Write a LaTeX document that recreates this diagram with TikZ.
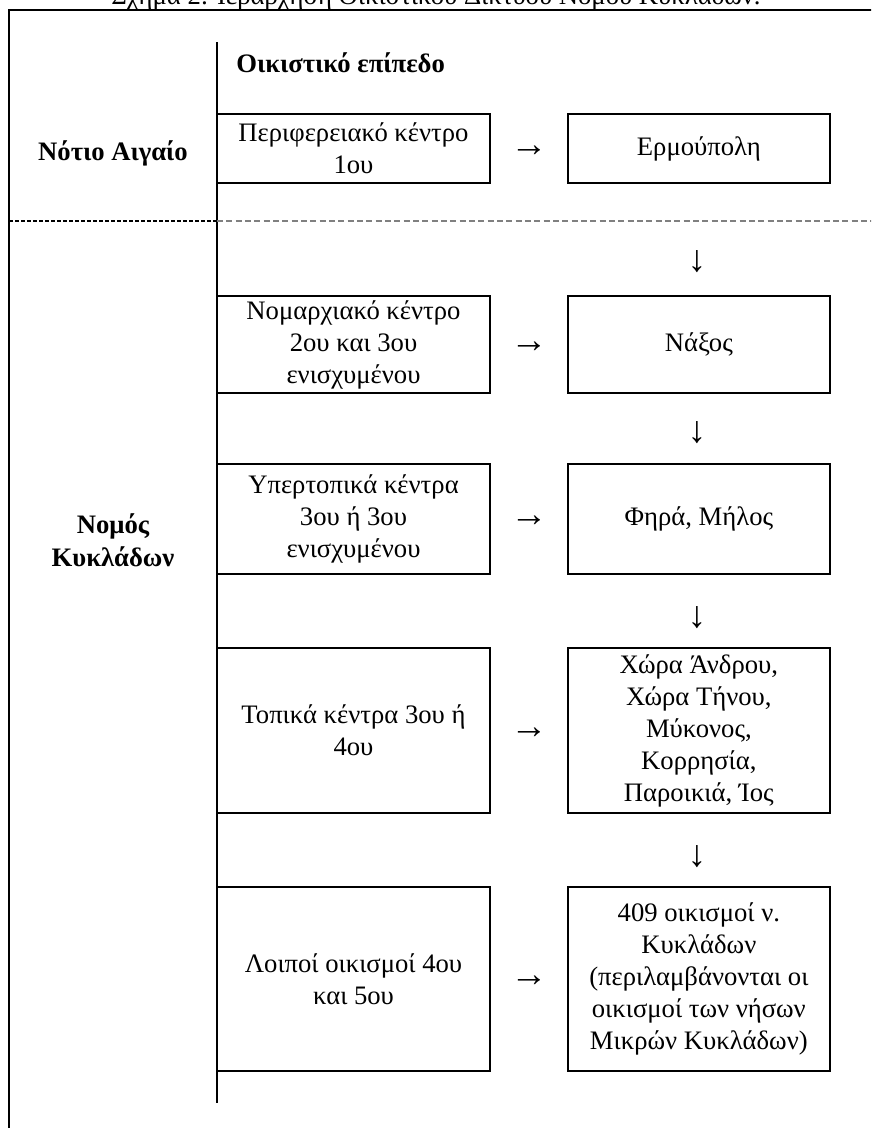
\documentclass[tikz,border=0pt]{standalone}
\usepackage{fontspec}
\setmainfont{Liberation Serif}
\usetikzlibrary{positioning,calc}

\begin{document}
\begin{tikzpicture}[x=0.75pt, y=-0.75pt,
		txt/.style={font=\fontsize{20}{24}\selectfont, align=center, inner sep=0pt},
		bld/.style={txt, font=\fontsize{20}{24.5}\selectfont\bfseries},
		arr/.style={txt, font=\fontsize{28}{28}\selectfont},
		lbox/.style={txt, draw, line width=1.4pt, minimum width=204.75pt},
		rbox/.style={txt, draw, line width=1.4pt, minimum width=196.5pt},
		dashblack/.style={line width=1.5pt, dash pattern=on 3pt off 1.5pt},
		dashgray/.style={gray, line width=0.9pt, dash pattern=on 4.5pt off 2.5pt}]
			\clip (0,0) rectangle (871,1128);
			\node[txt, anchor=base] (cap) at (436,4) {Σχήμα 2: Ιεράρχηση Οικιστικού Δικτύου Νομού Κυκλάδων.};
			% frame and column lines
			\draw[line width=1.5pt] (9,1140) -- (9,10) -- (890,10);
			\draw[line width=1.2pt] (217,42) -- (217,1103);
			\draw[dashblack] (9,221) -- (217,221);
			\draw[dashgray] (217,221) -- (890,221);
			\node[bld, anchor=west] (lvl) at (236,63) {Οικιστικό επίπεδο};
			\node[bld] (aig) at (113,153) {Νότιο Αιγαίο};
			\node[bld] (kyk) at (113,540) {Νομός\\Κυκλάδων};
			% levels
			\node[lbox, minimum height=51.75pt] (a) at (353.5,148.5) {Περιφερειακό κέντρο\\1ου};
			\node[rbox, minimum height=51.75pt, right=57pt of a] (b) {Ερμούπολη};
			\node[lbox, minimum height=72.75pt] (c) at (353.5,344.5) {Νομαρχιακό κέντρο\\2ου και 3ου\\ενισχυμένου};
			\node[rbox, minimum height=72.75pt, right=57pt of c] (d) {Νάξος};
			\node[lbox, minimum height=82.5pt] (e) at (353.5,519) {Υπερτοπικά κέντρα\\3ου ή 3ου\\ενισχυμένου};
			\node[rbox, minimum height=82.5pt, right=57pt of e] (f) {Φηρά, Μήλος};
			\node[lbox, minimum height=123.75pt] (g) at (353.5,730.5) {Τοπικά κέντρα 3ου ή\\4ου};
			\node[rbox, minimum height=123.75pt, right=57pt of g] (h) {Χώρα Άνδρου,\\Χώρα Τήνου,\\Μύκονος,\\Κορρησία,\\Παροικιά, Ίος};
			\node[lbox, minimum height=138pt] (i) at (353.5,979) {Λοιποί οικισμοί 4ου\\και 5ου};
			\node[rbox, minimum height=138pt, right=57pt of i] (j) {409 οικισμοί ν.\\Κυκλάδων\\(περιλαμβάνονται οι\\οικισμοί των νήσων\\Μικρών Κυκλάδων)};
			% arrows
			\node[arr, yshift=-2pt] (ab) at ($(a.east)!0.5!(b.west)$) {→};
			\node[arr, yshift=-2pt] (cd) at ($(c.east)!0.5!(d.west)$) {→};
			\node[arr, yshift=-2pt] (ef) at ($(e.east)!0.5!(f.west)$) {→};
			\node[arr, yshift=-2pt] (gh) at ($(g.east)!0.5!(h.west)$) {→};
			\node[arr, yshift=-2pt] (ij) at ($(i.east)!0.5!(j.west)$) {→};
			\node[arr] (bd) at (697,262) {↓};
			\node[arr] (df) at (697,433) {↓};
			\node[arr] (fh) at (697,618) {↓};
			\node[arr] (hj) at (697,857) {↓};
\end{tikzpicture}
\end{document}
